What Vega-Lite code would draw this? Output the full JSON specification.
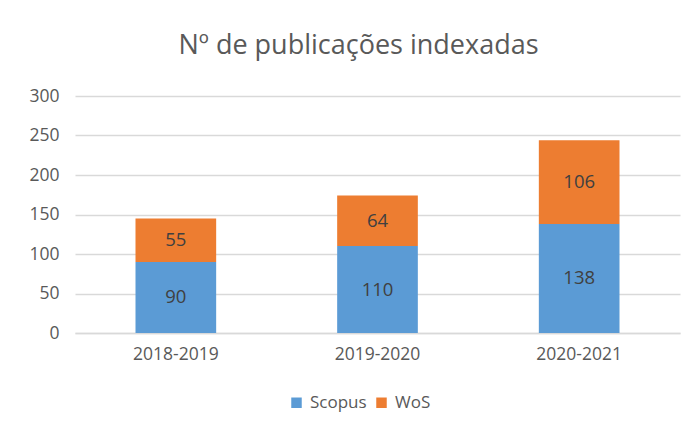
{
  "$schema": "https://vega.github.io/schema/vega-lite/v6.json",
  "width": 605,
  "height": 237,
  "autosize": "none",
  "padding": {"left": 75, "top": 96, "right": 11, "bottom": 93},
  "background": "white",
  "title": {
    "text": "Nº de publicações indexadas",
    "font": "Open Sans",
    "fontSize": 27,
    "fontWeight": "normal",
    "color": "#595959",
    "offset": 27,
    "dx": -19
  },
  "data": {
    "values": [
      {"period": "2018-2019", "source": "Scopus", "order": 1, "value": 90},
      {"period": "2018-2019", "source": "WoS", "order": 2, "value": 55},
      {"period": "2019-2020", "source": "Scopus", "order": 1, "value": 110},
      {"period": "2019-2020", "source": "WoS", "order": 2, "value": 64},
      {"period": "2020-2021", "source": "Scopus", "order": 1, "value": 138},
      {"period": "2020-2021", "source": "WoS", "order": 2, "value": 106}
    ]
  },
  "transform": [
    {"stack": "value", "groupby": ["period"], "sort": [{"field": "order"}], "as": ["v0", "v1"]},
    {"calculate": "(datum.v0 + datum.v1) / 2", "as": "vmid"}
  ],
  "encoding": {
    "x": {
      "field": "period",
      "type": "nominal",
      "title": null,
      "scale": {"paddingInner": 0.6, "paddingOuter": 0.3},
      "axis": {
        "labelAngle": 0,
        "labelFont": "Open Sans",
        "labelFontSize": 17.5,
        "labelColor": "#595959",
        "labelPadding": 12,
        "ticks": false,
        "domainColor": "#D9D9D9",
        "domainWidth": 1.5
      }
    }
  },
  "layer": [
    {
      "mark": {"type": "bar"},
      "encoding": {
        "y": {
          "field": "v0",
          "type": "quantitative",
          "title": null,
          "scale": {"domain": [0, 300], "nice": false},
          "axis": {
            "values": [0, 50, 100, 150, 200, 250, 300],
            "labelOverlap": false,
            "labelFont": "Open Sans",
            "labelFontSize": 17.5,
            "labelColor": "#595959",
            "labelPadding": 16,
            "ticks": false,
            "domain": false,
            "gridColor": "#D9D9D9",
            "gridWidth": 1.5
          }
        },
        "y2": {"field": "v1"},
        "color": {
          "field": "source",
          "type": "nominal",
          "sort": ["Scopus", "WoS"],
          "scale": {"domain": ["Scopus", "WoS"], "range": ["#5B9BD5", "#ED7D31"]},
          "legend": {
            "title": null,
            "orient": "none",
            "legendX": 213,
            "legendY": 298,
            "direction": "horizontal",
            "symbolType": "square",
            "symbolSize": 110,
            "symbolStrokeWidth": 0,
            "labelFont": "Open Sans",
            "labelFontSize": 17,
            "labelColor": "#595959",
            "labelOffset": 5,
            "columnPadding": 6
          }
        }
      }
    },
    {
      "mark": {"type": "text", "font": "Open Sans", "fontSize": 18.5, "color": "#404040", "baseline": "middle"},
      "encoding": {
        "y": {
          "field": "vmid",
          "type": "quantitative",
          "title": null,
          "scale": {"domain": [0, 300], "nice": false},
          "axis": {
            "values": [0, 50, 100, 150, 200, 250, 300],
            "labelOverlap": false,
            "labelFont": "Open Sans",
            "labelFontSize": 17.5,
            "labelColor": "#595959",
            "labelPadding": 16,
            "ticks": false,
            "domain": false,
            "gridColor": "#D9D9D9",
            "gridWidth": 1.5
          }
        },
        "text": {"field": "value", "type": "quantitative"}
      }
    }
  ],
  "config": {
    "view": {"stroke": null}
  }
}
